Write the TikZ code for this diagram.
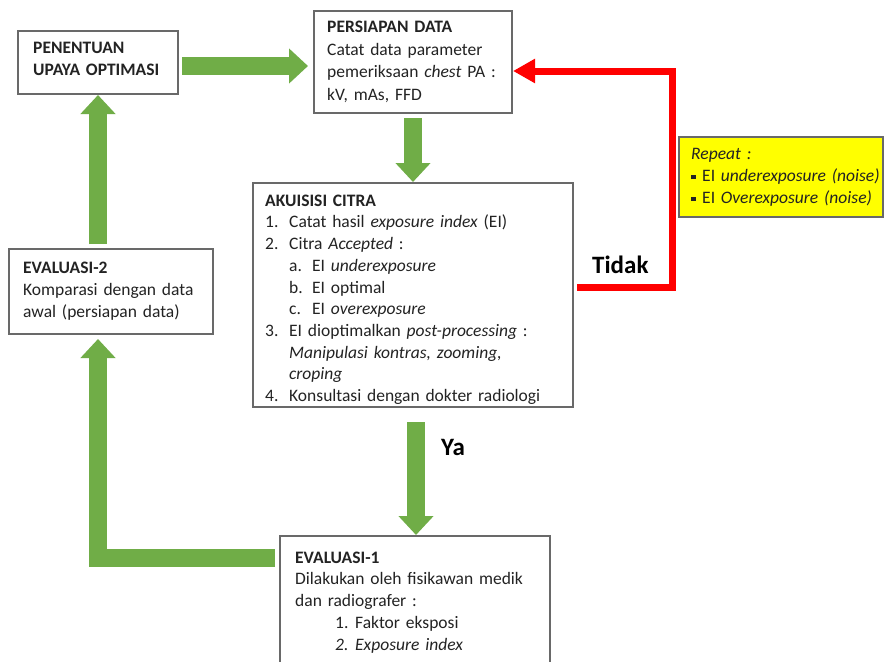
\documentclass[tikz,border=0pt]{standalone}
\usepackage{fontspec}
\setmainfont{Carlito}
\usetikzlibrary{arrows.meta,calc}
\definecolor{gr}{RGB}{112,173,71}
\definecolor{bx}{RGB}{105,105,105}
\definecolor{tx}{RGB}{35,35,35}
\definecolor{yel}{RGB}{255,255,0}
\begin{document}
\begin{tikzpicture}[x=1pt,y=-1pt,
  box/.style={draw=bx,line width=1.3pt,fill=white,anchor=north west,inner sep=0pt,outer sep=0pt},
  txt/.style={anchor=north west,inner sep=0pt,align=left,text=tx,font=\fontsize{17.5}{22}\selectfont},
  garr/.style={draw=gr,line width=18pt,line join=miter,-{Triangle[length=19pt,width=34pt]}},
  rarr/.style={draw=red,line width=7pt,line join=miter,-{Triangle[length=22pt,width=23pt]}},
  lbl/.style={anchor=base west,inner sep=0pt,text=black,font=\fontsize{25}{30}\selectfont\bfseries}]
\useasboundingbox (0,0) rectangle (885,661);
\clip (0,0) rectangle (885,661);
\fill[white] (0,0) rectangle (885,661);

% boxes
\node[box,minimum width=160pt,minimum height=63pt] (pen) at (18,31) {};
\node[box,minimum width=198pt,minimum height=102pt] (per) at (314,11) {};
\node[box,minimum width=320pt,minimum height=224pt] (ak) at (253,183) {};
\node[box,minimum width=204pt,minimum height=85pt] (ev2) at (9,249) {};
\node[box,minimum width=270pt,minimum height=140pt] (ev1) at (280,536) {};
\node[box,fill=yel,minimum width=204pt,minimum height=80pt] (rep) at (679,137) {};

% texts
\node[txt,text width=140pt,font=\fontsize{17.5}{22.4}\selectfont] (pent) at (33,38.3)
  {\rule{0pt}{15pt}\textbf{PENENTUAN}\\\textbf{UPAYA OPTIMASI}};
\node[txt,text width=180pt,font=\fontsize{17.5}{22.4}\selectfont] (pert) at (327,17.7)
  {\rule{0pt}{15pt}\textbf{PERSIAPAN DATA}\\Catat data parameter\\pemeriksaan \textit{chest} PA :\\kV, mAs, FFD};
\node[txt,text width=305pt,font=\fontsize{17.5}{21.7}\selectfont] (akt) at (265,191)
  {\rule{0pt}{15pt}\textbf{AKUISISI CITRA}\\
   \makebox[24pt][l]{1.}Catat hasil \textit{exposure index} (EI)\\
   \makebox[24pt][l]{2.}Citra \textit{Accepted} :\\
   \hspace*{24pt}\makebox[23pt][l]{a.}EI \textit{underexposure}\\
   \hspace*{24pt}\makebox[23pt][l]{b.}EI optimal\\
   \hspace*{24pt}\makebox[23pt][l]{c.}EI \textit{overexposure}\\
   \makebox[24pt][l]{3.}EI dioptimalkan \textit{post-processing} :\\
   \hspace*{24pt}\textit{Manipulasi kontras, zooming,}\\
   \hspace*{24pt}\textit{croping}\\
   \makebox[24pt][l]{4.}Konsultasi dengan dokter radiologi};
\node[txt,text width=190pt] (ev2t) at (23,258)
  {\rule{0pt}{15pt}\textbf{EVALUASI-2}\\Komparasi dengan data\\awal (persiapan data)};
\node[txt,text width=250pt,font=\fontsize{17.5}{21.7}\selectfont] (ev1t) at (295,548)
  {\rule{0pt}{15pt}\textbf{EVALUASI-1}\\Dilakukan oleh fisikawan medik\\dan radiografer :\\
   \hspace*{40pt}\makebox[20pt][l]{1.}Faktor eksposi\\
   \hspace*{40pt}\textit{\makebox[20pt][l]{2.}Exposure index}};
\node[txt,text width=192pt] (rept) at (691,144.3)
  {\rule{0pt}{15pt}\textit{Repeat :}\\
   \makebox[11pt][l]{\rule[2.5pt]{4.5pt}{4.5pt}}EI \textit{underexposure (noise)}\\
   \makebox[11pt][l]{\rule[2.5pt]{4.5pt}{4.5pt}}EI \textit{Overexposure (noise)}};

% labels
\node[lbl] (tid) at (592,273) {Tidak};
\node[lbl] (ya) at (441,455) {Ya};

% connectors
\coordinate (rc) at (672,71);
\draw[garr] ($(pen.east)+(4,3.5)$) -- ($(per.west)+(-6,4)$);
\draw[garr] ($(per.south)+(0,5)$) -- ($(ak.north)+(0,-1)$);
\draw[garr] ($(ak.south)+(3,15)$) -- ($(ev1.north)+(1,-1)$);
\draw[garr] ($(ev1.north west)+(-5,22)$) -| ($(ev2.south)+(-13,5)$);
\draw[garr] ($(ev2.north)+(-13,-5)$) -- ($(pen.south)+(0,1)$);
\draw[rarr] ($(ak.east)+(4,-8)$) -| (rc) -- ($(per.east)+(1,9)$);
\end{tikzpicture}
\end{document}
